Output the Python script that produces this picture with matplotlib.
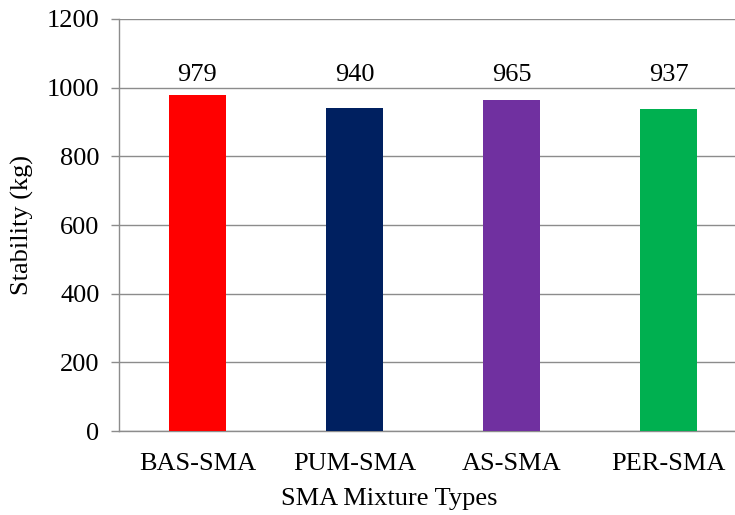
import matplotlib
matplotlib.use("Agg")
import matplotlib.pyplot as plt

categories = ["BAS-SMA", "PUM-SMA", "AS-SMA", "PER-SMA"]
stability = [979, 940, 965, 937]
colors = ["#FF0000", "#002060", "#7030A0", "#00B050"]
y_ticks = [0, 200, 400, 600, 800, 1000, 1200]

plt.rcParams["font.family"] = ["Liberation Serif", "DejaVu Serif"]
grid_color = "#8c8c8c"
fs = 19

fig = plt.figure(figsize=(7.35, 5.15), dpi=100)
ax = fig.add_axes([119 / 735, 84 / 515, 628 / 735, 412 / 515])

x = range(len(categories))
ax.bar(x, stability, width=0.365, color=colors, zorder=3)

ax.set_xlim(-0.5, len(categories) - 0.5)
ax.set_ylim(0, 1200)
ax.set_yticks(y_ticks)
ax.set_xticks(list(x))
ax.set_xticklabels(categories, fontsize=fs)
ax.tick_params(axis="y", labelsize=fs, length=6, width=1.0, color=grid_color, pad=8)
ax.tick_params(axis="x", length=0, pad=16)

ax.yaxis.grid(True, color=grid_color, linewidth=1.0, zorder=0)
ax.set_axisbelow(True)
for side in ("top", "right"):
    ax.spines[side].set_visible(False)
for side in ("left", "bottom"):
    ax.spines[side].set_color(grid_color)
    ax.spines[side].set_linewidth(1.0)

# value labels sit on a common line above the tallest bar
label_y = max(stability) + 40
for xi, v in zip(x, stability):
    ax.text(xi, label_y, f"{v}", ha="center", va="baseline", fontsize=fs)

ax.set_ylabel("Stability (kg)", fontsize=fs)
ax.yaxis.set_label_coords(-0.135, 0.5)
ax.set_xlabel("SMA Mixture Types", fontsize=fs)
ax.xaxis.set_label_coords(0.431, -0.138)

fig.savefig("out.png", dpi=100)
